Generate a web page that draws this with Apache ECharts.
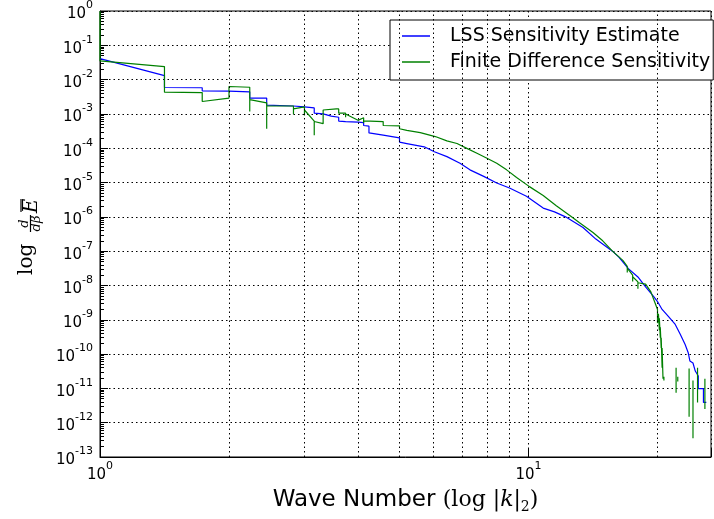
<!DOCTYPE html>
<html><head><meta charset="utf-8">
<script src="https://cdn.jsdelivr.net/npm/echarts@6/dist/echarts.min.js"></script>
<style>html,body{margin:0;padding:0;background:#fff}#c{width:714px;height:519px}</style>
</head><body><div id="c"></div>
<script>
// ---- data ----
const seriesNames = ['LSS Sensitivity Estimate', 'Finite Difference Sensitivity'];

const blueK = [1, 1.414, 1.414, 1.732, 1.732, 2, 2, 2.236, 2.236, 2.449, 2.449, 2.828, 3, 3.162, 3.162,
  3.317, 3.317, 3.464, 3.606, 3.606, 3.742, 4, 4.123, 4.123, 4.243, 4.243, 4.58, 5, 5, 5.2, 5.71, 6.03,
  6.45, 6.92, 7.3, 7.86, 8.43, 9.03, 9.89, 10.82, 11.5, 12.2, 13.4, 14.36, 15.7, 16.25, 17.1, 18.0,
  18.76, 19.6, 20.0, 20.5, 21.2, 22.0, 22.6, 23.2, 23.6, 23.8, 24.2, 24.5, 24.9, 24.9, 25.6, 25.6, 26.0];
const blueVal = [0.041, 0.0131, 0.0059, 0.0058, 0.0047, 0.0046, 0.0044, 0.0044, 0.0029, 0.0029, 0.0018,
  0.0017, 0.0016, 0.0015, 0.00105, 0.001, 0.00088, 0.00086, 0.0008, 0.00062, 0.0006, 0.00058, 0.00056,
  0.00046, 0.00044, 0.00028, 0.00024, 0.0002, 0.00015, 1.37e-4, 1.1e-4, 7.9e-5, 5.7e-5, 3.65e-5, 2.34e-5,
  1.51e-5, 9.7e-6, 6.9e-6, 4.0e-6, 1.8e-6, 1.4e-6, 1.0e-6, 4.9e-7, 2.25e-7, 1.0e-7, 6.7e-8, 3.1e-8,
  1.77e-8, 9.1e-9, 4.7e-9, 3.4e-9, 2.0e-9, 1.25e-9, 7.3e-10, 3.8e-10, 1.9e-10, 1.07e-10, 6.3e-11,
  5.5e-11, 3.2e-11, 2.3e-11, 9.8e-12, 9.8e-12, 3.9e-12, 3.9e-12];

const greenK = [1, 1, 1.414, 1.414, 1.732, 1.732, 2, 2, 2.236, 2.236, 2.236, 2.449, 2.449, 2.449,
  2.828, 2.828, 2.828, 3, 3, 3, 3.162, 3.162, 3.162, 3.317, 3.317, 3.56, 3.606, 3.606, 3.742, 3.742,
  3.742, 4, 4.123, 4.123, 4.123, 4.58, 4.58, 5, 5, 5.2, 5.59, 6.06, 6.45, 6.81, 7.18, 7.58, 8.0, 8.43,
  8.89, 9.38, 10.05, 10.82, 11.61, 12.6, 13.13, 14.14, 14.9, 15.7, 16.6, 17.0, 17.0, 17.0, 17.5, 17.5,
  17.5, 18.0, 18.0, 18.0, 18.76, 19.3, 19.6, 20.0, 20.0, 20.1, 20.2, 20.2, 20.3, 20.3, 20.4, 20.4, 20.5,
  20.5, 20.6, 20.6, 20.7, 20.7, 20.8, 22.1, 22.1, 22.2, 22.3, 22.3, 22.4, 23.7, 23.7, 23.9, 24.2, 24.2,
  24.5, 24.8, 24.8, 25.0, 25.8, 25.8];
const greenVal = [0.98, 0.035, 0.024, 0.0043, 0.0042, 0.0023, 0.0029, 0.0063, 0.006, 0.00118, 0.0026,
  0.0021, 0.00037, 0.0017, 0.0017, 0.00098, 0.0014, 0.0016, 0.0009, 0.0013, 0.00062, 0.00024, 0.0006,
  0.00052, 0.0013, 0.0014, 0.0014, 0.00105, 0.00105, 0.0008, 0.001, 0.00065, 0.00077, 0.00054, 0.00063,
  0.0006, 0.00046, 0.00045, 0.00037, 0.00033, 2.85e-4, 2.19e-4, 1.64e-4, 1.37e-4, 9.9e-5, 7.1e-5, 5.1e-5,
  3.65e-5, 2.34e-5, 1.4e-5, 7.6e-6, 4.2e-6, 2.1e-6, 1.0e-6, 6.8e-7, 3.5e-7, 2.0e-7, 1.0e-7, 5.4e-8,
  3.6e-8, 2.4e-8, 3.2e-8, 2.0e-8, 1.3e-8, 1.8e-8, 1.27e-8, 8e-9, 1.2e-8, 1.1e-8, 6.5e-9, 3.9e-9, 2.0e-9,
  8e-10, 1.5e-9, 5e-10, 1.1e-9, 3e-10, 6e-10, 1.5e-10, 3e-10, 4e-11, 1.5e-10, 1.9e-11, null, 2.2e-11,
  1.7e-11, null, 4.0e-11, 7.5e-12, null, 2.2e-11, 1.6e-11, null, 3.8e-11, 1.5e-12, null, 1.7e-11,
  3.5e-13, null, 4.0e-11, 3.9e-12, null, 1.9e-11, 2.5e-12];

const xMinorGrid = [2, 3, 4, 5, 6, 7, 8, 9, 20];
const xMin = 1, xMax = 26.66, yMin = 1e-13, yMax = 1;

// ---- chart ----
function pairs(k, v) { return k.map((x, i) => [x, v[i]]); }
function powLabel(v) {
  const e = Math.log10(v);
  const r = Math.round(e);
  if (Math.abs(e - r) > 1e-6) return '';
  return '{b|10}{s|' + r + '}';
}
const dotted = { color: '#000', type: [1.5, 3], width: 1 };
const tickRich = {
  b: { fontSize: 15, fontFamily: 'DejaVu Sans', color: '#000', lineHeight: 22, verticalAlign: 'bottom' },
  s: { fontSize: 11, fontFamily: 'DejaVu Sans', color: '#000', lineHeight: 22, verticalAlign: 'top' }
};
const chart = echarts.init(document.getElementById('c'));
chart.setOption({
  animation: false,
  backgroundColor: '#fff',
  grid: { left: 100, right: -2, top: 11, bottom: 57, show: true, borderColor: '#000', borderWidth: 1 },
  legend: {
    data: seriesNames, orient: 'vertical', left: 390, top: 20, icon: 'rect',
    padding: [6, 3, 8, 12], itemGap: 6, itemWidth: 28, itemHeight: 1.5,
    borderColor: '#000', borderWidth: 1, borderRadius: 0, backgroundColor: '#fff',
    textStyle: { fontSize: 19, fontFamily: 'DejaVu Sans', color: '#000', lineHeight: 20, padding: [0, 0, 0, 15] }
  },
  xAxis: {
    type: 'log', logBase: 10, min: xMin, max: xMax, interval: 1,
    axisLine: { lineStyle: { color: '#000', width: 1 } },
    axisTick: { inside: true, length: 8, lineStyle: { color: '#000' } },
    axisLabel: { formatter: powLabel, rich: tickRich, margin: 4 },
    splitLine: { show: true, lineStyle: dotted },
    name: '{a|Wave Number }{m|(log |}{i|k}{m||}{u|2}{m|)}',
    nameLocation: 'middle', nameGap: 29,
    nameTextStyle: {
      rich: {
        a: { fontSize: 23, fontFamily: 'DejaVu Sans', color: '#000', lineHeight: 28 },
        m: { fontSize: 22, fontFamily: 'DejaVu Serif', color: '#000', lineHeight: 28 },
        i: { fontSize: 22, fontFamily: 'DejaVu Serif', fontStyle: 'italic', color: '#000', lineHeight: 28 },
        u: { fontSize: 14, fontFamily: 'DejaVu Serif', color: '#000', lineHeight: 12, verticalAlign: 'bottom' }
      }
    }
  },
  yAxis: {
    type: 'log', logBase: 10, min: yMin, max: yMax, interval: 1,
    axisLine: { lineStyle: { color: '#000', width: 1 } },
    axisTick: { inside: true, length: 8, lineStyle: { color: '#000' } },
    minorTick: { show: true, splitNumber: 9, length: 4, lineStyle: { color: '#000' } },
    axisLabel: { formatter: powLabel, rich: tickRich, margin: 7, align: 'right' },
    splitLine: { show: true, lineStyle: dotted }
  },
  graphic: [{
    type: 'group', x: 30, y: 237, rotation: Math.PI / 2, silent: true,
    children: [
      { type: 'text', x: -38, y: -3, style: { text: 'log', font: '20px "DejaVu Serif"', fill: '#000', align: 'left', verticalAlign: 'middle' } },
      { type: 'text', x: 13.5, y: -5, style: { text: 'd', font: 'italic 13px "DejaVu Serif"', fill: '#000', align: 'center', verticalAlign: 'middle' } },
      { type: 'line', shape: { x1: 5, y1: 0.5, x2: 22, y2: 0.5 }, style: { stroke: '#000', lineWidth: 1.2 } },
      { type: 'text', x: 13.5, y: 7, style: { text: 'dβ', font: 'italic 13px "DejaVu Serif"', fill: '#000', align: 'center', verticalAlign: 'middle' } },
      { type: 'text', x: 31, y: 2, style: { text: 'E', font: 'italic 20px "DejaVu Serif"', fill: '#000', align: 'center', verticalAlign: 'middle' } },
      { type: 'line', shape: { x1: 25, y1: -9, x2: 38, y2: -9 }, style: { stroke: '#000', lineWidth: 1.2 } }
    ]
  }],
  series: [
    {
      name: 'grid', type: 'line', data: [], z: 1, silent: true,
      markLine: {
        silent: true, symbol: ['none', 'none'], label: { show: false }, animation: false,
        lineStyle: dotted, emphasis: { disabled: true },
        data: xMinorGrid.map(v => ({ xAxis: v }))
      }
    },
    {
      name: seriesNames[0], type: 'line', data: pairs(blueK, blueVal), symbol: 'none',
      lineStyle: { color: '#0000ff', width: 1.2 }, itemStyle: { color: '#0000ff' }, z: 3
    },
    {
      name: seriesNames[1], type: 'line', data: pairs(greenK, greenVal), symbol: 'none', connectNulls: false,
      lineStyle: { color: '#008000', width: 1.2 }, itemStyle: { color: '#008000' }, z: 4
    }
  ]
});
</script></body></html>
